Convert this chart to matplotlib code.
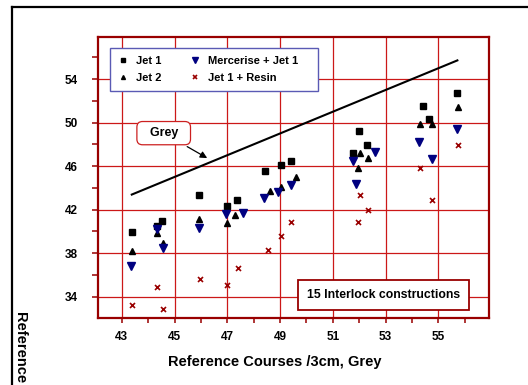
import matplotlib
matplotlib.use("Agg")
import matplotlib.pyplot as plt
from matplotlib.lines import Line2D

plt.rcParams['font.family'] = ['Liberation Sans', 'DejaVu Sans']
plt.rcParams['font.weight'] = 'bold'

# Reference courses /3cm (grey) vs. finished state, 15 interlock constructions
jet1_x = [43.37, 44.34, 44.54, 45.94, 46.99, 47.37, 48.42, 49.02, 49.41, 51.78, 52.01, 52.29, 54.42, 54.63, 55.71]
jet1_y = [39.97, 40.50, 40.92, 43.35, 42.33, 42.86, 45.53, 46.08, 46.45, 47.22, 49.22, 47.94, 51.52, 50.32, 52.72]

jet2_x = [43.38, 44.34, 44.56, 45.93, 46.99, 47.31, 48.63, 49.04, 49.60, 51.96, 52.03, 52.34, 54.31, 54.77, 55.73]
jet2_y = [38.18, 39.84, 38.96, 41.10, 40.74, 41.54, 43.75, 44.05, 45.00, 45.80, 47.18, 46.74, 49.83, 49.83, 51.40]

merc_x = [43.34, 44.34, 44.55, 45.93, 46.94, 47.59, 48.40, 48.92, 49.41, 51.76, 51.87, 52.58, 54.28, 54.75, 55.69]
merc_y = [36.77, 40.20, 38.42, 40.34, 41.63, 41.69, 43.07, 43.60, 44.24, 46.46, 44.32, 47.31, 48.23, 46.66, 49.43]

resin_x = [43.37, 44.32, 44.55, 45.98, 46.99, 47.39, 48.56, 49.04, 49.43, 51.96, 52.04, 52.33, 54.29, 54.77, 55.73]
resin_y = [33.24, 34.84, 32.81, 35.64, 35.05, 36.62, 38.25, 39.54, 40.86, 40.86, 43.35, 41.94, 45.84, 42.86, 47.95]

grey_x = [43.38, 55.72]
grey_y = [43.38, 55.72]

x_major = [43, 45, 47, 49, 51, 53, 55]
x_minor = [44, 46, 48, 50, 52, 54, 56]
y_major = [34, 38, 42, 46, 50, 54]
y_minor = [36, 40, 44, 48, 52, 56]

red = '#cc1818'
dark_red = '#990000'

fig = plt.figure(figsize=(5.28, 3.85), dpi=100)
ax = fig.add_axes([98 / 528, 1 - 318.3 / 385, 390.5 / 528, 281.6 / 385])

ax.set_xlim(42.1, 56.9)
ax.set_ylim(32.0, 57.9)
ax.set_xticks(x_major)
ax.set_xticks(x_minor, minor=True)
ax.set_yticks(y_major)
ax.set_yticks(y_minor, minor=True)
ax.grid(True, which='major', color=red, lw=0.9)
ax.set_axisbelow(True)

for s in ax.spines.values():
    s.set_color(dark_red)
    s.set_linewidth(1.6)

ax.tick_params(axis='both', which='both', color=dark_red, width=1.1, labelsize=8.5)
ax.tick_params(axis='y', which='both', length=4.3, pad=10.5)
ax.tick_params(axis='x', which='both', length=3.5, pad=6)

ax.plot(grey_x, grey_y, color='black', lw=1.5)

ax.plot(jet1_x, jet1_y, ls='none', marker='s', ms=4.2, color='black', label='Jet 1')
ax.plot(jet2_x, jet2_y, ls='none', marker='^', ms=3.8, color='black', label='Jet 2')
ax.plot(merc_x, merc_y, ls='none', marker='v', ms=5.4, color='#000080', label='Mercerise + Jet 1    ')
ax.plot(resin_x, resin_y, ls='none', marker='x', ms=3.6, mew=1.2, color='#990000', label='Jet 1 + Resin')

leg = ax.legend(loc='upper left', bbox_to_anchor=(0.0307, 0.9588), borderaxespad=0,
                ncol=2, fontsize=8, markerscale=0.75, handlelength=1.0, handletextpad=0.6,
                columnspacing=2.6, labelspacing=0.6, borderpad=0.7, fancybox=False,
                framealpha=1, edgecolor='#5a5ab4')
leg.get_frame().set_linewidth(1.0)

ax.annotate('  Grey  ', xy=(46.33, 46.61), xytext=(44.59, 49.03), fontsize=9,
            ha='center', va='center',
            bbox=dict(boxstyle='round,pad=0.45', fc='white', ec='#cc2020', lw=0.9),
            arrowprops=dict(arrowstyle='-|>', color='black', lw=0.9, mutation_scale=10))

ax.text(0.731, 0.0827, '15 Interlock constructions', transform=ax.transAxes, fontsize=8.8,
        ha='center', va='center',
        bbox=dict(boxstyle='square,pad=0.75', fc='white', ec=dark_red, lw=1.3))

fig.text(275 / 528, 1 - 361.7 / 385, 'Reference Courses /3cm, Grey', fontsize=10.5,
         ha='center', va='center')
fig.text(20 / 528, 1 - 311.7 / 385, 'Reference', fontsize=10.5, rotation=-90,
         ha='center', va='top')

# outer frame (left and top only)
fig.add_artist(Line2D([11.5 / 528, 11.5 / 528], [0, 1 - 7.3 / 385], color='black', lw=1.6))
fig.add_artist(Line2D([11.5 / 528, 1], [1 - 7.3 / 385, 1 - 7.3 / 385], color='black', lw=1.6))

fig.savefig('out.png', dpi=100)
